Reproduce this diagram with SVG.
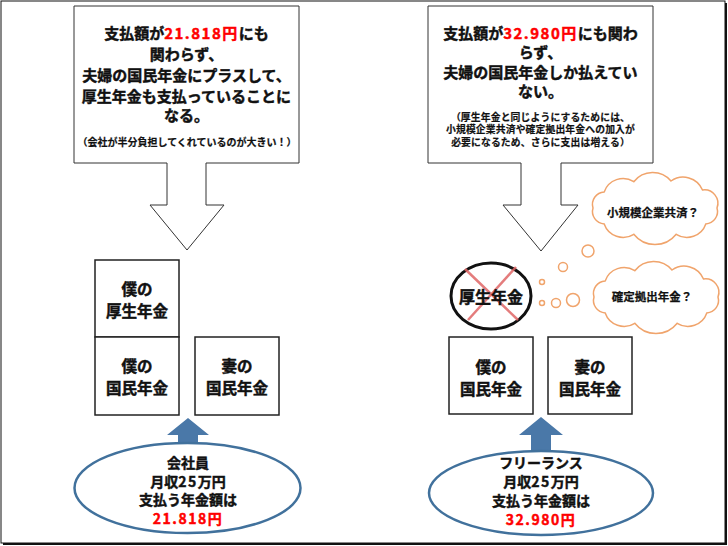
<svg xmlns="http://www.w3.org/2000/svg" width="728" height="546" viewBox="0 0 728 546">
<defs>
<style>
text{font-family:"Noto Sans CJK JP","Noto Sans",sans-serif;font-weight:bold;fill:#111;stroke:#111;stroke-width:0.45;text-anchor:middle}
.big{font-size:15px}
.small{font-size:10px;stroke-width:0.2}
.sm2{font-size:9.8px;stroke-width:0.2;letter-spacing:0.15px}
.box{fill:#fff;stroke:#222;stroke-width:1.5}
.bt{font-size:15.5px}
.et{font-size:14px}
.ct{font-size:11.5px;stroke-width:0.25}
.red{fill:#ff0000;stroke:#ff0000}
.num{letter-spacing:1.5px}
.call{fill:#fff;stroke:#333;stroke-width:1}
.blue{fill:#4a78a8}
.oval{fill:#fff;stroke:#41719c;stroke-width:2.5}
.cloud{fill:#fff;stroke:#f0a46c;stroke-width:1.5}
</style>
<path id="cloudshape" d="M717,208 A13.4,13.4 0 0 0 702.5,190 A21,21 0 0 0 671,181 A24,24 0 0 0 633.8,181.7 A20,20 0 0 0 604.2,191.9 A12.5,12.5 0 0 0 593,208 A12.5,12.5 0 0 0 604.2,224 A20,20 0 0 0 633.8,234.3 A27,27 0 0 0 676.2,234.3 A20,20 0 0 0 705.8,224 A12.5,12.5 0 0 0 717,208 Z"/>
</defs>
<rect x="0" y="0" width="728" height="546" fill="#fff"/>
<g id="frame">
<rect x="1" y="1" width="724" height="542" fill="none" stroke="#111" stroke-width="1"/>
<line x1="3" y1="544" x2="727" y2="544" stroke="#111" stroke-width="2"/>
<line x1="726" y1="3" x2="726" y2="545" stroke="#111" stroke-width="2"/>
</g>

<g id="connectors">
<polygon class="blue" points="188,418 209,435 198,435 198,450 178,450 178,435 167,435"/>
<polygon class="blue" points="541,417 563,435 551,435 551,455 531,455 531,435 519,435"/>
</g>

<g id="callout-left">
<path class="call" d="M74,6 H299 V163 H206 V205 H224 L187,250 L150,205 H167 V163 H74 Z"/>
<text class="big" x="186.5" y="38.5">支払額が<tspan class="red num">21.818円</tspan>にも<tspan x="186.5" y="59.5">関わらず、</tspan><tspan x="186.5" y="81">夫婦の国民年金にプラスして、</tspan><tspan x="186.5" y="102">厚生年金も支払っていることに</tspan><tspan x="186.5" y="121">なる。</tspan></text>
<text class="small" x="187" y="145.5">（会社が半分負担してくれているのが大きい！）</text>
</g>

<g id="callout-right">
<path class="call" d="M428,6 H653 V163 H561 V205 H578 L541,251 L503,205 H521 V163 H428 Z"/>
<text class="big" x="540.5" y="38.5">支払額が<tspan class="red num">32.980円</tspan>にも関わ<tspan x="540.5" y="58">らず、</tspan><tspan x="540.5" y="77.5">夫婦の国民年金しか払えてい</tspan><tspan x="540.5" y="96.5">ない。</tspan></text>
<text class="sm2" x="540.5" y="120.5">（厚生年金と同じようにするためには、<tspan x="540.5" y="133">小規模企業共済や確定拠出年金への加入が</tspan><tspan x="540.5" y="145.5">必要になるため、さらに支出は増える）</tspan></text>
</g>

<g id="box-my-kosei">
<rect class="box" x="95" y="260" width="84" height="77"/>
<text class="bt" x="137" y="295">僕の<tspan x="137" y="317">厚生年金</tspan></text>
</g>
<g id="box-my-kokumin-left">
<rect class="box" x="95" y="337" width="84" height="78"/>
<text class="bt" x="137" y="372">僕の<tspan x="137" y="394">国民年金</tspan></text>
</g>
<g id="box-wife-kokumin-left">
<rect class="box" x="195" y="337" width="84" height="78"/>
<text class="bt" x="237" y="372">妻の<tspan x="237" y="394">国民年金</tspan></text>
</g>

<g id="box-my-kokumin-right">
<rect class="box" x="449" y="337" width="84" height="77"/>
<text class="bt" x="491" y="373">僕の<tspan x="491" y="395">国民年金</tspan></text>
</g>
<g id="box-wife-kokumin-right">
<rect class="box" x="548" y="337" width="84" height="77"/>
<text class="bt" x="590" y="373">妻の<tspan x="590" y="395">国民年金</tspan></text>
</g>

<g id="crossed-kosei">
<ellipse cx="491" cy="296" rx="40" ry="33" fill="#fff" stroke="#111" stroke-width="3"/>
<line x1="465" y1="269" x2="518" y2="320" stroke="#e06666" stroke-width="2.5" opacity="0.85"/>
<line x1="516" y1="267" x2="468" y2="320" stroke="#e06666" stroke-width="2.5" opacity="0.85"/>
<text class="bt" x="491" y="303" style="font-size:16px">厚生年金</text>
</g>

<g id="thought-bubbles" fill="#fff" stroke="#f0a46c" stroke-width="1.5">
<circle cx="588" cy="251" r="6"/>
<circle cx="563" cy="267" r="4.5"/>
<circle cx="542" cy="282" r="2.5"/>
<circle cx="542" cy="303" r="2.5"/>
<circle cx="556" cy="303" r="4.5"/>
<circle cx="573" cy="300" r="6.5"/>
</g>

<g id="cloud-shokibo">
<use href="#cloudshape" class="cloud"/>
<text class="ct" x="653" y="217">小規模企業共済？</text>
</g>
<g id="cloud-kakutei">
<use href="#cloudshape" class="cloud" transform="translate(1,89)"/>
<text class="ct" x="652" y="301">確定拠出年金？</text>
</g>

<g id="oval-left">
<ellipse class="oval" cx="187.5" cy="488" rx="113" ry="45"/>
<text class="et" x="188" y="468">会社員<tspan x="188" y="486.5">月収<tspan class="num">25</tspan>万円</tspan><tspan x="188" y="505">支払う年金額は</tspan><tspan class="red num" x="188" y="523.5">21.818円</tspan></text>
</g>
<g id="oval-right">
<ellipse class="oval" cx="541" cy="493" rx="112" ry="42"/>
<text class="et" x="541" y="468">フリーランス<tspan x="541" y="487">月収<tspan class="num">25</tspan>万円</tspan><tspan x="541" y="506">支払う年金額は</tspan><tspan class="red num" x="541" y="525">32.980円</tspan></text>
</g>
</svg>
